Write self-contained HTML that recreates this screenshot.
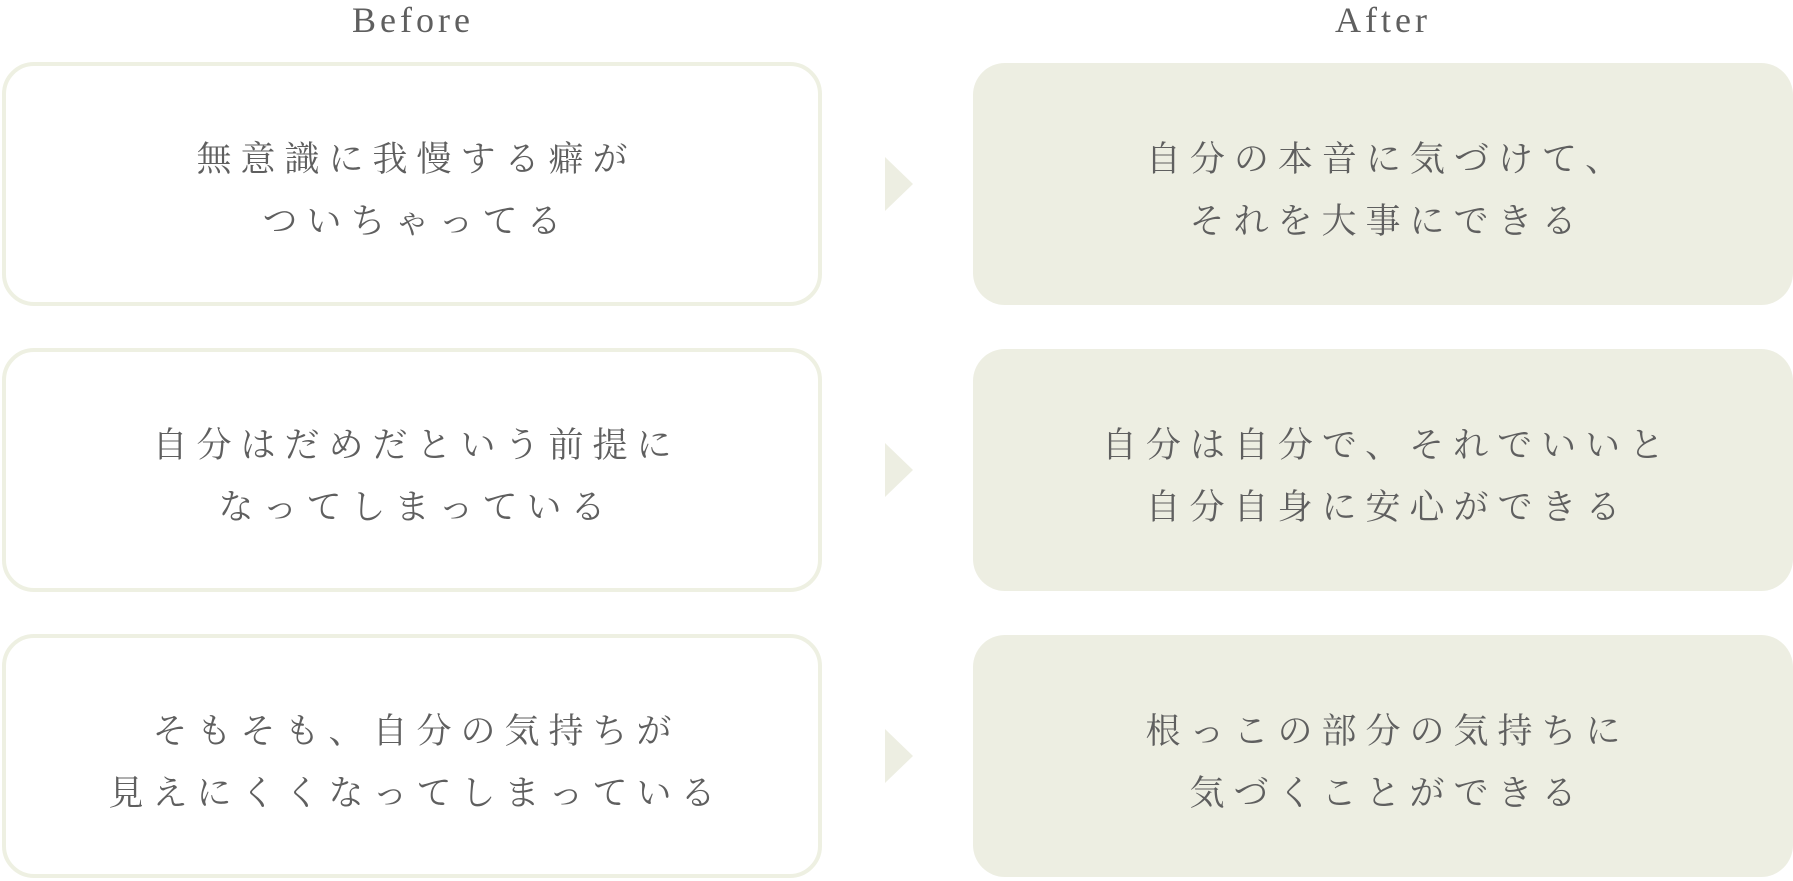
<!DOCTYPE html>
<html><head><meta charset="utf-8"><style>
html,body{margin:0;padding:0;width:1793px;height:881px;background:#fff;overflow:hidden}
body{position:relative;font-family:"Liberation Serif","Noto Serif CJK SC",serif;color:#5f5f5f}
.lbl{position:absolute;top:0;font-size:36px;letter-spacing:4px;text-align:center;width:400px;line-height:40px}
.box{position:absolute;box-sizing:border-box;border-radius:32px;display:flex;align-items:center;justify-content:center;text-align:center;font-size:35px;letter-spacing:9px;line-height:62px;padding-left:9px;padding-top:14px}
.l{left:2px;width:820px;border:4px solid #eef0e2;background:#fff}
.r{left:973px;width:820px;background:#edeee2}
.ar{position:absolute;left:885px;width:0;height:0;border-top:27px solid transparent;border-bottom:27px solid transparent;border-left:28px solid #edeee2}
</style></head><body>
<div class="lbl" style="left:213px">Before</div>
<div class="lbl" style="left:1183px">After</div>
<div class="box l" style="top:62px;height:244px">無意識に我慢する癖が<br>ついちゃってる</div>
<div class="box l" style="top:348px;height:244px">自分はだめだという前提に<br>なってしまっている</div>
<div class="box l" style="top:634px;height:244px">そもそも、自分の気持ちが<br>見えにくくなってしまっている</div>
<div class="box r" style="top:63px;height:242px">自分の本音に気づけて、<br>それを大事にできる</div>
<div class="box r" style="top:349px;height:242px">自分は自分で、それでいいと<br>自分自身に安心ができる</div>
<div class="box r" style="top:635px;height:242px">根っこの部分の気持ちに<br>気づくことができる</div>
<div class="ar" style="top:157px"></div>
<div class="ar" style="top:443px"></div>
<div class="ar" style="top:729px"></div>
</body></html>
